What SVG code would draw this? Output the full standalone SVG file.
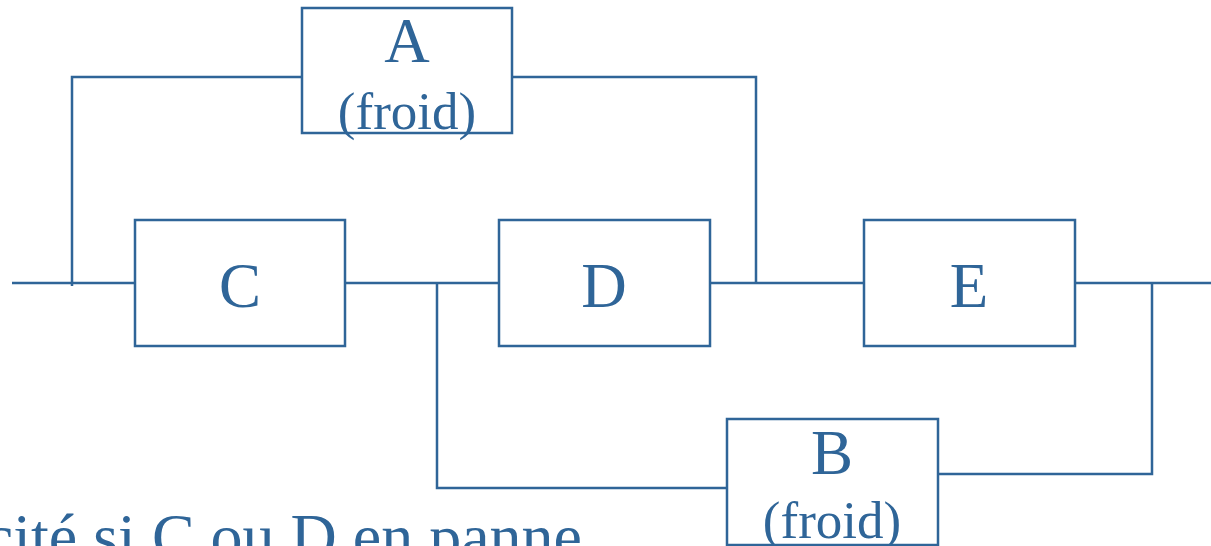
<svg xmlns="http://www.w3.org/2000/svg" width="1211" height="546" viewBox="0 0 1211 546">
<style>
.box{fill:#fff;stroke:#2F6598;stroke-width:2.5}
.ln{fill:none;stroke:#2F6598;stroke-width:2.5}
text{font-family:"Liberation Serif","Times New Roman",serif;fill:#2F6598;text-anchor:middle}
.big{font-size:63px}
.sm{font-size:53px}
</style>
<g id="connectors">
<path class="ln" d="M12,283 H135 M345,283 H499 M710,283 H864 M1075,283 H1211"/>
<path class="ln" d="M72,286 V77 H302 M512,77 H756 V283"/>
<path class="ln" d="M437,283 V488 H727 M938,474 H1152 V283"/>
</g>
<g id="A"><rect class="box" x="302" y="8" width="210" height="125"/><text class="big" x="407" y="62">A</text><text class="sm" x="407" y="129">(froid)</text></g>
<g id="C"><rect class="box" x="135" y="220" width="210" height="126"/><text class="big" x="240" y="307">C</text></g>
<g id="D"><rect class="box" x="499" y="220" width="211" height="126"/><text class="big" x="604" y="307">D</text></g>
<g id="E"><rect class="box" x="864" y="220" width="211" height="126"/><text class="big" x="969" y="307">E</text></g>
<g id="B"><rect class="box" x="727" y="419" width="211" height="126"/><text class="big" x="832" y="474">B</text><text class="sm" x="832" y="538">(froid)</text></g>
<text x="582" y="558" style="text-anchor:end;font-size:64px">cité si C ou D en panne</text>
</svg>
